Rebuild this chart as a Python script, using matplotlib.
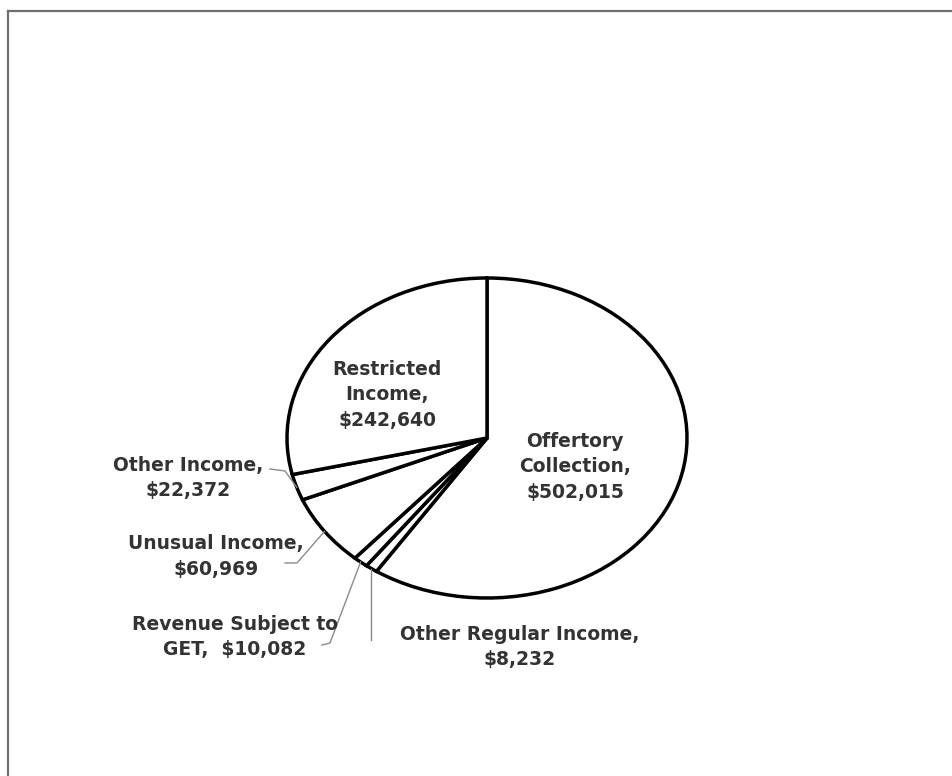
import numpy as np
import matplotlib
matplotlib.use("Agg")
import matplotlib.pyplot as plt
from matplotlib.lines import Line2D

# income categories, in drawing order (clockwise from 12 o'clock)
categories = ["Offertory Collection", "Other Regular Income", "Revenue Subject to GET",
              "Unusual Income", "Other Income", "Restricted Income"]
values = [502015, 8232, 10082, 60969, 22372, 242640]
labels = ["Offertory\nCollection,\n$502,015",
          "Other Regular Income,\n$8,232",
          "Revenue Subject to\nGET,  $10,082",
          "Unusual Income,\n$60,969",
          "Other Income,\n$22,372",
          "Restricted\nIncome,\n$242,640"]

# label placement (pie data coords) and leader elbows for the outside ones
label_pos = [(0.44, -0.18), (0.165, -1.306), (-1.26, -1.244),
             (-1.355, -0.74), (-1.495, -0.25), (-0.5, 0.27)]
leaders = {1: [(None, -1.265)],
           2: [(-0.825, -1.294), (-0.785, -1.281)],
           3: [(-1.01, -0.781), (-0.95, -0.781)],
           4: [(-1.085, -0.194), (-1.01, -0.206)]}

W, H = 953, 776
fig = plt.figure(figsize=(W / 100, H / 100), dpi=100)
fig.patch.set_facecolor("white")

# stretched axes -> elliptical pie like the original
ax = fig.add_axes([287 / W, 1 - 598 / H, 400 / W, 320 / H])
wedges, _ = ax.pie(values, startangle=90, counterclock=False,
                   colors=["white"] * len(values),
                   wedgeprops=dict(edgecolor="black", linewidth=2.5))
ax.set_aspect("auto")
ax.set_xlim(-1, 1)
ax.set_ylim(-1, 1)
ax.axis("off")

font = dict(family=["DejaVu Sans"], fontweight="bold", fontsize=13.5,
            color="#333333", ha="center", va="center", linespacing=1.45)

for i, w in enumerate(wedges):
    x, y = label_pos[i]
    ax.text(x, y, labels[i], clip_on=False, **font)
    if i in leaders:
        mid = np.deg2rad((w.theta1 + w.theta2) / 2)
        ex, ey = np.cos(mid), np.sin(mid)
        pts = [(ex if px is None else px, py) for px, py in leaders[i]] + [(ex, ey)]
        xs, ys = zip(*pts)
        ax.plot(xs, ys, color="#8a8a8a", linewidth=1.0, clip_on=False)

# grey frame from the screenshot (left and top edges)
fig.add_artist(Line2D([8.5 / W, 8.5 / W], [0, 1 - 11 / H], color="#707070",
                      linewidth=1.6, transform=fig.transFigure))
fig.add_artist(Line2D([8.5 / W, 1], [1 - 11 / H, 1 - 11 / H], color="#707070",
                      linewidth=1.6, transform=fig.transFigure))

fig.savefig("out.png", dpi=100, facecolor="white")
